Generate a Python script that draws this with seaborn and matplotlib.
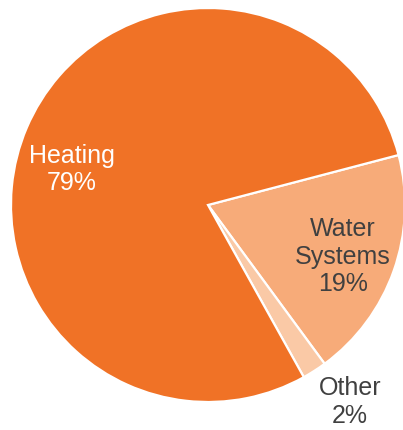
import matplotlib
matplotlib.use('Agg')
import matplotlib.pyplot as plt
import seaborn as sns

sns.set_theme(style="white")
plt.rcParams['font.family'] = ['Liberation Sans', 'DejaVu Sans']

# Data
categories = ['Water\nSystems', 'Other', 'Heating']
shares = [19, 2, 79]
colors = ['#F7AB79', '#FAC9A6', '#F07226']
text_colors = ['#404040', '#404040', 'white']
# label positions in data units (pie radius = 1)
label_pos = [(0.685, -0.262), (0.72, -1.0), (-0.69, 0.18)]

fig = plt.figure(figsize=(4.03, 4.30), dpi=100)
ax = fig.add_axes([0, 0, 1, 1])

ax.pie(shares, colors=colors, startangle=14.7, counterclock=False,
       radius=1.0, wedgeprops=dict(edgecolor='white', linewidth=1.6))

for cat, val, (x, y), tc in zip(categories, shares, label_pos, text_colors):
    ax.text(x, y, f'{cat}\n{val}%', ha='center', va='center', fontsize=18,
            color=tc, linespacing=1.18)

# center at pixel (208, 205), radius ~197 px
r = 197.0
ax.set_xlim(-208 / r, (403 - 208) / r)
ax.set_ylim(-(430 - 205) / r, 205 / r)
ax.set_aspect('auto')
ax.axis('off')

fig.savefig('out.png', dpi=100, facecolor='white')
